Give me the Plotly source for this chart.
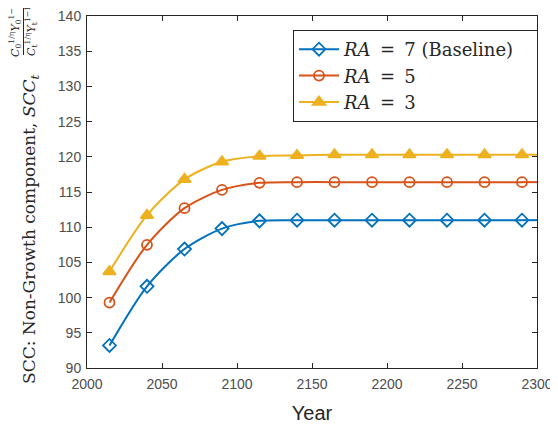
import plotly.graph_objects as go

years = [2015, 2040, 2065, 2090, 2115, 2140, 2165, 2190, 2215, 2240, 2265, 2290]
end_year = 2300
ra7 = [93.2, 101.6, 106.9, 109.8, 110.9, 111.0, 111.0, 111.0, 111.0, 111.0, 111.0, 111.0]
ra5 = [99.3, 107.5, 112.7, 115.3, 116.3, 116.4, 116.4, 116.4, 116.4, 116.4, 116.4, 116.4]
ra3 = [103.7, 111.7, 116.8, 119.3, 120.1, 120.2, 120.3, 120.3, 120.3, 120.3, 120.3, 120.3]
names = ["<i>RA</i> \u2009= \u20097 (Baseline)\u00a0\u00a0\u00a0", "<i>RA</i> \u2009= \u20095", "<i>RA</i> \u2009= \u20093"]
colors = ["#0072BD", "#D95319", "#EDB120"]
symbols = ["diamond-open", "circle-open", "triangle-up"]
sizes = [10, 10, 11]
x_ticks = [2000, 2050, 2100, 2150, 2200, 2250, 2300]
y_ticks = [90, 95, 100, 105, 110, 115, 120, 125, 130, 135, 140]

# the page body has an 8px default margin, so the figure is drawn 8px in
OFF = 8
W, H = 558 - OFF, 425 - OFF
L, R, T, B = 87 - OFF, 21, 16 - OFF, 57
pw, ph = W - L - R, H - T - B


def px(xs):
    return (xs - OFF - L) / pw


def py(ys):
    return (H - B - (ys - OFF)) / ph


fig = go.Figure()
for vals, name, col, sym, sz in zip([ra7, ra5, ra3], names, colors, symbols, sizes):
    fig.add_trace(go.Scatter(
        x=years, y=vals, name=name, mode="lines+markers",
        line=dict(color=col, width=2, shape="spline", smoothing=0.8),
        marker=dict(symbol=sym, size=sz, color=col, line=dict(color=col, width=1.8)),
    ))
    fig.add_trace(go.Scatter(
        x=[years[-1], end_year], y=[vals[-1], vals[-1]], mode="lines",
        line=dict(color=col, width=2), showlegend=False, hoverinfo="skip",
    ))

axis_common = dict(
    showgrid=False, zeroline=False, showline=True, linecolor="#262626", linewidth=1,
    mirror="ticks", ticks="inside", ticklen=5, tickcolor="#262626", automargin=False,
    ticklabeloverflow="allow",
    tickfont=dict(family="Liberation Sans, Arial", size=14, color="#4d4d4d"),
)

serif = "DejaVu Serif, Liberation Serif"
annotations = [
    dict(text="SCC: Non-Growth component, <i>SCC<sub>t</sub></i>", textangle=-90,
         xref="paper", yref="paper", x=px(31), y=py(386), xanchor="center", yanchor="bottom",
         showarrow=False, font=dict(family=serif, size=17, color="#262626")),
    dict(text="<i>C</i><sub>0</sub><sup>1/η</sup><i>Y</i><sub>0</sub><sup>1−1/η</sup>", textangle=-90,
         xref="paper", yref="paper", x=px(15), y=py(27), xanchor="center", yanchor="middle",
         showarrow=False, font=dict(family=serif, size=11, color="#262626")),
    dict(text="<i>C</i><sub>t</sub><sup>1/η</sup><i>Y</i><sub>t</sub><sup>1−1/η</sup>", textangle=-90,
         xref="paper", yref="paper", x=px(31), y=py(27), xanchor="center", yanchor="middle",
         showarrow=False, font=dict(family=serif, size=11, color="#262626")),
]
shapes = [dict(type="line", xref="paper", yref="paper", x0=px(23.5), x1=px(23.5), y0=py(0), y1=py(55),
               line=dict(color="#262626", width=1))]

fig.update_layout(
    width=W, height=H,
    margin=dict(l=L, r=R, t=T, b=B),
    paper_bgcolor="white", plot_bgcolor="white",
    xaxis=dict(range=[2000, 2300], tickvals=x_ticks, ticklabelstandoff=3,
               title=dict(text="Year", font=dict(family="Liberation Sans, Arial", size=20, color="#262626")),
               **axis_common),
    yaxis=dict(range=[90, 140], tickvals=y_ticks, ticklabelstandoff=2, **axis_common),
    legend=dict(x=px(293), y=py(30), xanchor="left", yanchor="top",
                bgcolor="white", bordercolor="#262626", borderwidth=1,
                font=dict(family=serif, size=18, color="#262626"),
                tracegroupgap=0, itemwidth=40),
    annotations=annotations,
    shapes=shapes,
    showlegend=True,
)

fig.write_html("out.html")
